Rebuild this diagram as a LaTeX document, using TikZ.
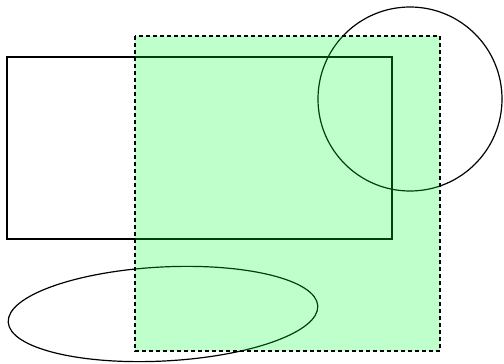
\documentclass[tikz,border=0pt]{standalone}
\usepackage{tikz}
\usetikzlibrary{calc}
\definecolor{shadegreen}{RGB}{0,255,50}
\tikzset{
  outline/.style  = {draw=black, line width=1.2pt},
  overlay/.style  = {draw=black, line width=1.2pt, dash pattern=on 4pt off 3pt,
                     fill=shadegreen, fill opacity=0.25, draw opacity=1},
}

\begin{document}
\begin{tikzpicture}[x=1pt, y=-1pt]
  \useasboundingbox (0,0) rectangle (504,364);
  \draw[outline] (7,57) rectangle (392,239);
  \draw[outline] (410,99) circle[radius=92];
  \draw[outline, rotate around={3:(163,314)}] (163,314) ellipse[x radius=155, y radius=47];
  \draw[overlay] (135,36) rectangle (440,351);
\end{tikzpicture}
\end{document}
